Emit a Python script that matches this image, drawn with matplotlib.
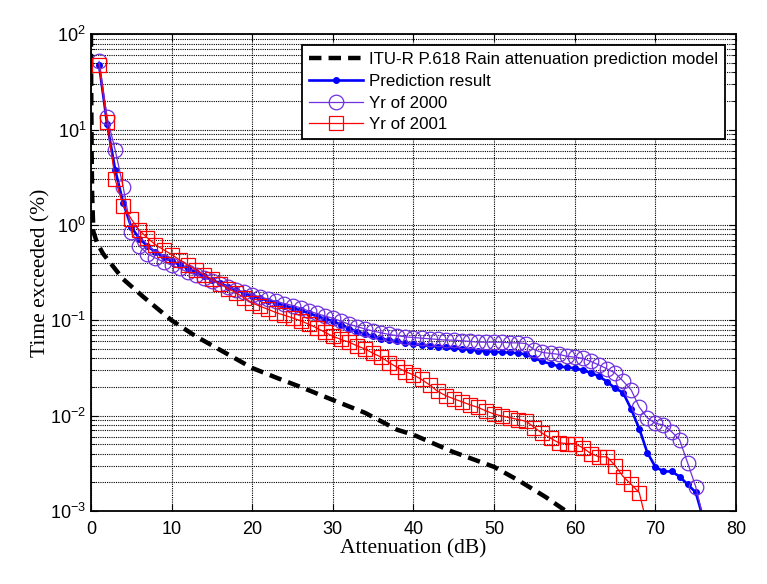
import matplotlib
matplotlib.use("Agg")
import matplotlib.pyplot as plt
from matplotlib.ticker import LogLocator, NullFormatter, FixedLocator

plt.rcParams["font.family"] = ["Liberation Sans", "DejaVu Sans"]
plt.rcParams["mathtext.default"] = "regular"

# ITU-R P.618 model curve
itu_x = [0.0, 0.03, 0.08, 0.15, 0.3, 0.75, 1.5, 2.4, 4.0, 6.5, 10, 13, 16, 20,
         23, 26, 30, 34, 38, 40, 44.8, 50, 53, 56.4, 58.9, 60]
itu_y = [100, 30, 6, 2, 0.85, 0.65, 0.5, 0.40, 0.27, 0.176, 0.1, 0.068, 0.049,
         0.0316, 0.025, 0.020, 0.0146, 0.0107, 0.0071, 0.0063, 0.0042, 0.0029,
         0.0021, 0.0014, 0.001, 0.0009]

pred_x = list(range(1, 77))
pred_y = [48, 11.5, 3.8, 1.7, 0.95, 0.72, 0.6, 0.52, 0.46, 0.42,
          0.38, 0.35, 0.32, 0.29, 0.265, 0.245, 0.225, 0.208, 0.193, 0.18,
          0.17, 0.16, 0.151, 0.143, 0.135, 0.127, 0.119, 0.111, 0.104, 0.098,
          0.09, 0.082, 0.076, 0.072, 0.068, 0.064, 0.062, 0.06, 0.058, 0.056,
          0.055, 0.054, 0.053, 0.052, 0.051, 0.050, 0.049, 0.048, 0.047, 0.047,
          0.046, 0.046, 0.045, 0.044, 0.040, 0.037, 0.035, 0.033, 0.032, 0.0315,
          0.030, 0.028, 0.026, 0.0227, 0.0194, 0.0174, 0.0117, 0.0073, 0.0041, 0.0029,
          0.0026, 0.0026, 0.0023, 0.0019, 0.00157, 0.0008]

y2000_x = list(range(1, 77))
y2000_y = [52, 13.5, 6.1, 2.5, 0.85, 0.6, 0.5, 0.45, 0.41, 0.38,
           0.35, 0.32, 0.3, 0.28, 0.26, 0.24, 0.225, 0.21, 0.197, 0.186,
           0.176, 0.167, 0.158, 0.15, 0.143, 0.135, 0.125, 0.118, 0.111, 0.105,
           0.098, 0.091, 0.086, 0.081, 0.077, 0.074, 0.071, 0.069, 0.067, 0.066,
           0.065, 0.064, 0.063, 0.062, 0.062, 0.061, 0.060, 0.059, 0.059, 0.059,
           0.059, 0.058, 0.058, 0.057, 0.049, 0.046, 0.045, 0.044, 0.042, 0.041,
           0.040, 0.037, 0.034, 0.031, 0.028, 0.023, 0.0186, 0.0123, 0.0095, 0.0083,
           0.0080, 0.0068, 0.0056, 0.0032, 0.0018, 0.0008]

y2001_x = list(range(1, 70))
y2001_y = [48, 12, 3.0, 1.6, 1.15, 0.88, 0.73, 0.62, 0.55, 0.49,
           0.43, 0.38, 0.34, 0.3, 0.27, 0.24, 0.215, 0.195, 0.172, 0.152,
           0.14, 0.13, 0.12, 0.113, 0.106, 0.099, 0.091, 0.083, 0.075, 0.068,
           0.063, 0.059, 0.054, 0.05, 0.045, 0.041, 0.036, 0.032, 0.029, 0.0267,
           0.024, 0.021, 0.018, 0.0162, 0.015, 0.014, 0.013, 0.0122, 0.0112, 0.0104,
           0.0099, 0.0095, 0.0091, 0.0087, 0.0075, 0.0065, 0.0058, 0.0052, 0.0051, 0.0051,
           0.0046, 0.0040, 0.0037, 0.0037, 0.0030, 0.0023, 0.0019, 0.00156, 0.0007]

labels = ["ITU-R P.618 Rain attenuation prediction model", "Prediction result",
          "Yr of 2000", "Yr of 2001"]

fig = plt.figure(figsize=(7.67, 5.84), dpi=100)
ax = fig.add_axes([0.1186, 0.125, 0.841, 0.8163])

ax.plot(itu_x, itu_y, color="black", lw=3.2, linestyle=(0, (2.8, 1.6)), label=labels[0])
ax.plot(pred_x, pred_y, color="#0000ff", lw=1.9, marker=".", ms=8, label=labels[1])
ax.plot(y2000_x, y2000_y, color="#7030e0", lw=0.9, marker="o", ms=10.5,
        mfc="none", mew=0.9, label=labels[2])
ax.plot(y2001_x, y2001_y, color="#ff0000", lw=0.9, marker="s", ms=9.5,
        mfc="none", mew=0.9, label=labels[3])

ax.set_yscale("log")
ax.set_xlim(0, 80)
ax.set_ylim(1e-3, 1e2)
ax.set_xticks(range(0, 81, 10))
ax.yaxis.set_major_locator(FixedLocator([1e-3, 1e-2, 1e-1, 1, 10, 100]))
ax.set_yticklabels(["$10^{-3}$", "$10^{-2}$", "$10^{-1}$", "$10^{0}$", "$10^{1}$", "$10^{2}$"])
ax.yaxis.set_minor_locator(LogLocator(base=10, subs=range(2, 10), numticks=20))
ax.yaxis.set_minor_formatter(NullFormatter())

grid_style = dict(color="black", linestyle=(0, (1, 1)), lw=0.8)
ax.grid(True, which="major", **grid_style)
ax.grid(True, which="minor", axis="y", **grid_style)
ax.tick_params(which="both", direction="in", top=True, right=True, labelsize=13)
ax.tick_params(which="major", length=5)
ax.tick_params(which="minor", length=3)
ax.tick_params(axis="x", pad=7)
for s in ax.spines.values():
    s.set_linewidth(1.3)

ax.set_xlabel("Attenuation (dB)", family="Liberation Serif", fontsize=15.5, labelpad=1)
ax.set_ylabel("Time exceeded (%)", family="Liberation Serif", fontsize=15.5, labelpad=0)

leg = ax.legend(loc="upper right", fontsize=12.2, handlelength=3.2, handletextpad=0.35,
                borderaxespad=0.65, labelspacing=0.4, fancybox=False, framealpha=1,
                edgecolor="black", borderpad=0.4)
leg.get_frame().set_linewidth(1.3)

fig.savefig("out.png", dpi=100)
